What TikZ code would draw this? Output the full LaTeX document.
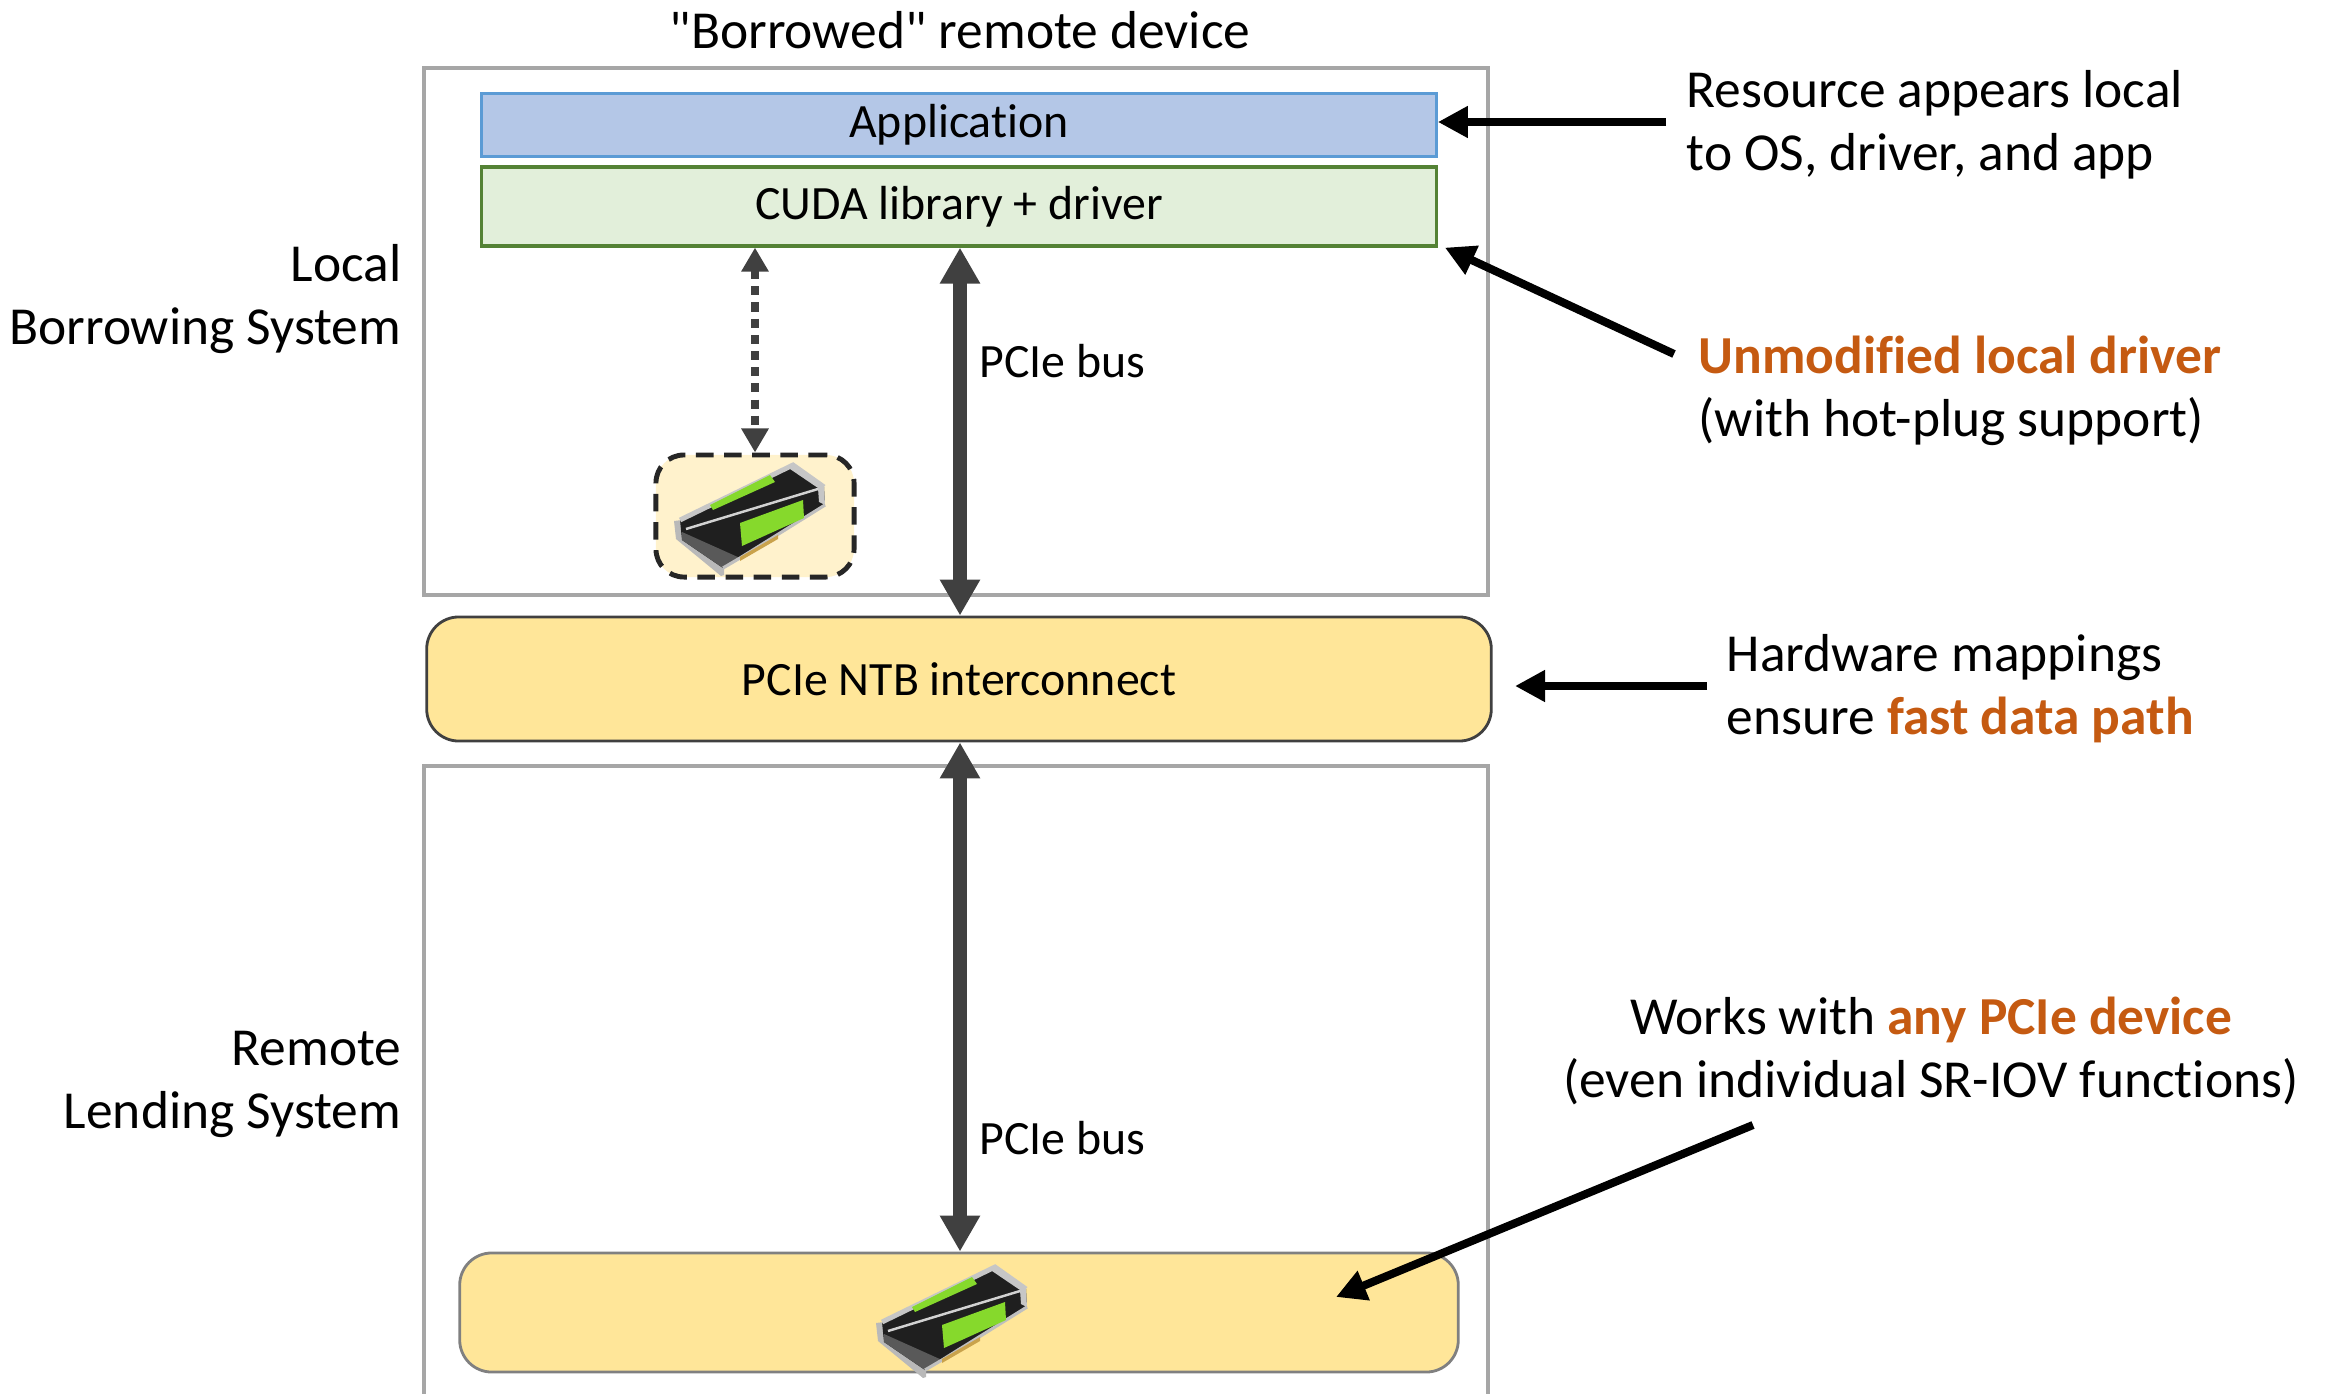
\documentclass[tikz,border=0pt]{standalone}
\usepackage{fontspec}
\setmainfont{Carlito}[Ligatures={TeXOff,NoCommon}]
\usetikzlibrary{arrows.meta, positioning}

\definecolor{appfill}{HTML}{B4C7E7}
\definecolor{appline}{HTML}{5B9BD5}
\definecolor{cudafill}{HTML}{E2EFDA}
\definecolor{cudaline}{HTML}{548235}
\definecolor{sysgray}{HTML}{A6A6A6}
\definecolor{ntbfill}{HTML}{FFE699}
\definecolor{gpufill}{HTML}{FFF2CC}
\definecolor{darkline}{HTML}{404040}
\definecolor{hilite}{HTML}{C55A11}
\definecolor{cardgreen}{HTML}{86D92C}
\definecolor{cardgold}{HTML}{C9A24B}

\tikzset{
  sysbox/.style={draw=sysgray, line width=1.15pt, inner sep=0pt},
  layer/.style={line width=0.9pt, inner sep=0pt, minimum width=9.54cm, font=\small},
  small/.style={font=\fontsize{13.6}{16}\selectfont},
  ybox/.style={fill=ntbfill, inner sep=0pt, rounded corners=0.32cm},
  label/.style={inner sep=0pt},
  bus/.style={darkline, line width=4.2pt, {Triangle[length=0.36cm,width=0.38cm]}-{Triangle[length=0.36cm,width=0.38cm]}},
  note/.style={black, line width=2.3pt, -{Triangle[length=0.3cm,width=0.3cm]}},
  % small graphics card drawn from polygons
  gpucard/.pic={
    % bracket
    \fill[gray!55] (-78,3) -- (-70,2) -- (-28,46) -- (-28,57) -- (-31,58) -- (-76,21) -- cycle;
    % body
    \fill[black!88] (-72,2) -- (41,-53) -- (72,-31) -- (73,-13) -- (-12,40) -- (-29,50) -- (-70,22) -- cycle;
    \fill[black!65] (-70,14) -- (-12,40) -- (-29,50) -- (-70,22) -- cycle;
    \fill[gray!45] (41,-53) -- (72,-31) -- (73,-13) -- (67,-16) -- (66,-30) -- (38,-49) -- cycle;
    \draw[gray!45, line width=1.4pt] (-72,2) -- (41,-53) -- (72,-31);
    \draw[gray!50, line width=0.9pt] (-29,50) -- (-12,40) -- (73,-13);
    \draw[gray!35, line width=0.7pt] (-66,11) -- (66,-29);
    % fan shroud stripes
    \fill[cardgreen] (-42,-13) -- (18,-43) -- (23,-36) -- (-39,-8) -- cycle;
    \fill[cardgreen] (-12,5) -- (51,-18) -- (52,0) -- (-10,28) -- cycle;
    % edge connector
    \fill[cardgold] (-12,39) -- (26,17) -- (26,21) -- (-12,43) -- cycle;
  }
}

\begin{document}
\begin{tikzpicture}[x=0.01cm, y=-0.01cm, font=\fontsize{15.2}{17.9}\selectfont]
  \useasboundingbox (0,0) rectangle (2333,1394);
  \clip (0,0) rectangle (2333,1394);

  % Hệ thống mượn (trên)
  \node[sysbox, minimum width=10.64cm, minimum height=5.27cm] (local) at (956,331.5) {};
  \node[layer, small, draw=appline, fill=appfill, minimum height=0.63cm] (app) at (959,125) {Application};
  \node[layer, small, draw=cudaline, fill=cudafill, minimum height=0.79cm] (cuda) at (959,206.5) {CUDA library + driver};
  \node[draw=black!85, fill=gpufill, line width=1.4pt, dash pattern=on 5pt off 3pt,
        rounded corners=0.28cm, inner sep=0pt, minimum width=1.98cm, minimum height=1.22cm] (gpubox) at (755,516) {};
  \pic at (752,518) {gpucard};

  % Kết nối NTB
  \node[ybox, small, draw=darkline, line width=0.8pt, minimum width=10.64cm, minimum height=1.24cm] (ntb) at (959,679) {PCIe NTB interconnect};

  % Hệ thống cho mượn (dưới) - hở ở đáy
  \draw[sysgray, line width=1.15pt] (424,1420) |- (1488,766) -- (1488,1420);
  \node[ybox, draw=black!50, line width=0.8pt, minimum width=9.98cm, minimum height=1.19cm] (lend) at (959,1312.5) {};
  \pic at (954,1320) {gpucard};

  % Bus PCIe
  \draw[bus] (cuda.south -| 960,0) -- (ntb.north -| 960,0);
  \draw[bus] (ntb.south -| 960,0) -- (lend.north -| 960,0);
  \draw[darkline, line width=2pt, dash pattern=on 2.6pt off 2pt,
        {Triangle[length=0.24cm,width=0.26cm]}-{Triangle[length=0.24cm,width=0.26cm]}]
        (cuda.south -| gpubox.north) -- (gpubox.north);
  \node[label, small, anchor=west] (bus1) at (979,361) {PCIe bus};
  \node[label, small, anchor=west] (bus2) at (979,1138) {PCIe bus};

  % Nhãn
  \node[label] (title) at (960,30) {"Borrowed" remote device};
  \node[label, anchor=east, align=right] (locallbl) at (402,299) {Local\\Borrowing System};
  \node[label, anchor=east, align=right] (remotelbl) at (402,1084) {Remote\\Lending System};

  % Ghi chú bên phải
  \node[label, anchor=west, align=left] (res) at (1686,125) {Resource appears local\\to OS, driver, and app};
  \node[label, anchor=west, align=left] (unmod) at (1698,391) {\textcolor{hilite}{\bfseries Unmodified local driver}\\(with hot-plug support)};
  \node[label, anchor=west, align=left] (hw) at (1726,689) {Hardware mappings\\ensure \textcolor{hilite}{\bfseries fast data path}};
  \node[label, align=center] (works) at (1931,1051) {Works with \textcolor{hilite}{\bfseries any PCIe device}\\(even individual SR-IOV functions)};

  \coordinate (restail) at (1666,122);
  \coordinate (unmodtail) at (1674,354);
  \coordinate (hwtail) at (1707,686);
  \coordinate (hwhead) at (1515,686);
  \coordinate (workstail) at (1753,1125);
  \coordinate (workshead) at (1336,1297);
  \draw[note] (restail) -- (app.east |- restail);
  \draw[note] (unmodtail) -- ([xshift=0.07cm]cuda.south east);
  \draw[note] (hwtail) -- (hwhead);
  \draw[note] (workstail) -- (workshead);
\end{tikzpicture}
\end{document}
